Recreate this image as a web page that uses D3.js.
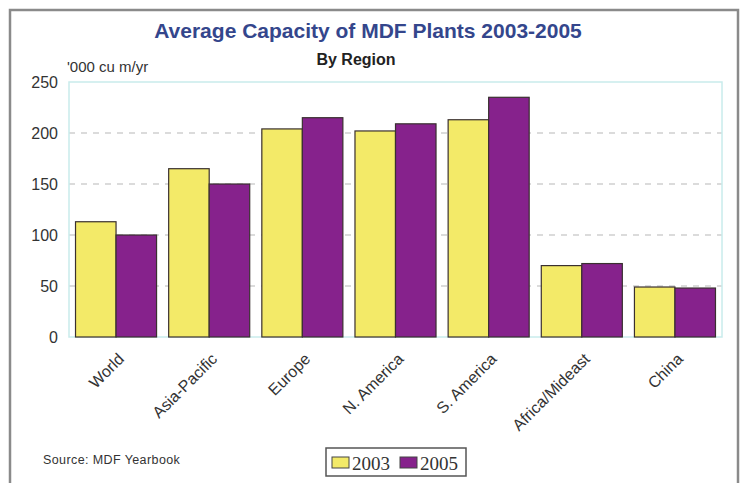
<!DOCTYPE html>
<html>
<head>
<meta charset="utf-8">
<script src="https://cdn.jsdelivr.net/npm/d3@7"></script>
<style>
  html, body { margin: 0; padding: 0; background: #fff; }
  svg { display: block; font-family: Arial, "Liberation Sans", sans-serif; }
</style>
</head>
<body>
<svg id="chart" width="741" height="483"></svg>
<script>
// Average capacity of MDF plants by region ('000 cu m/yr)
const regions = ["World", "Asia-Pacific", "Europe", "N. America", "S. America", "Africa/Mideast", "China"];
const years = ["2003", "2005"];
const values2003 = [113, 165, 204, 202, 213, 70, 49];
const values2005 = [100, 150, 215, 209, 235, 72, 48];
const yTicks = [0, 50, 100, 150, 200, 250];
const seriesColors = ["#f3ea68", "#86228c"];

const svg = d3.select("#chart");
const margin = { left: 69, right: 19, top: 82, bottom: 146 };
const W = 741, H = 483;
const plotW = W - margin.left - margin.right;
const plotH = H - margin.top - margin.bottom;
const sans = "Arial, 'Liberation Sans', sans-serif";

// outer frame
svg.append("path")
  .attr("d", `M10,${H + 5} L10,10 L738,10 L738,${H + 5}`)
  .attr("fill", "none").attr("stroke", "#8a8a8a").attr("stroke-width", 2.5);

// titles
svg.append("text").attr("x", 368).attr("y", 38).attr("text-anchor", "middle")
  .attr("font-size", 21).attr("font-weight", "bold").attr("fill", "#34468c")
  .text("Average Capacity of MDF Plants 2003-2005");
svg.append("text").attr("x", 356).attr("y", 65).attr("text-anchor", "middle")
  .attr("font-size", 16).attr("font-weight", "bold").attr("fill", "#222")
  .text("By Region");
svg.append("text").attr("x", 67).attr("y", 72)
  .attr("font-size", 15).attr("fill", "#333")
  .text("'000 cu m/yr");

const g = svg.append("g").attr("transform", `translate(${margin.left},${margin.top})`);

const x = d3.scaleBand().domain(regions).range([0, plotW]).paddingInner(0.13).paddingOuter(0.07);
const xs = d3.scaleBand().domain(years).range([0, x.bandwidth()]);
const y = d3.scaleLinear().domain([0, 250]).range([plotH, 0]);

// dashed gridlines
g.append("g").selectAll("line").data(yTicks.filter(t => t > 0 && t < 250)).join("line")
  .attr("x1", 0).attr("x2", plotW)
  .attr("y1", d => y(d)).attr("y2", d => y(d))
  .attr("stroke", "#cfcfcf").attr("stroke-width", 1.5).attr("stroke-dasharray", "6,6");

// plot border
g.append("rect").attr("x", 0).attr("y", 0).attr("width", plotW).attr("height", plotH)
  .attr("fill", "none").attr("stroke", "#c9ecec").attr("stroke-width", 1.5);

// bars
const series = [values2003, values2005];
const rows = regions.map((r, i) => ({ region: r, vals: years.map((yr, k) => ({ year: yr, k, v: series[k][i] })) }));
const grp = g.selectAll("g.grp").data(rows).join("g").attr("class", "grp")
  .attr("transform", d => `translate(${x(d.region)},0)`);
grp.selectAll("rect").data(d => d.vals).join("rect")
  .attr("x", d => xs(d.year)).attr("width", xs.bandwidth())
  .attr("y", d => y(d.v)).attr("height", d => plotH - y(d.v))
  .attr("fill", d => seriesColors[d.k])
  .attr("stroke", "#3a3030").attr("stroke-width", 1.2);

// y axis labels
const yAxis = d3.axisLeft(y).tickValues(yTicks).tickSize(0).tickPadding(11);
const ya = g.append("g").call(yAxis);
ya.select(".domain").remove();
ya.selectAll("text").attr("font-size", 16).attr("fill", "#333").attr("font-family", sans);

// x axis labels, rotated
const xAxis = d3.axisBottom(x).tickSize(0);
const xa = g.append("g").attr("transform", `translate(0,${plotH})`).call(xAxis);
xa.select(".domain").remove();
xa.selectAll("text")
  .attr("font-size", 16).attr("fill", "#333").attr("font-family", sans)
  .attr("text-anchor", "end").attr("dy", 0).attr("y", 0).attr("x", 0)
  .attr("transform", "translate(9,23) rotate(-45)");

// source note
svg.append("text").attr("x", 43).attr("y", 464)
  .attr("font-size", 12.5).attr("letter-spacing", 0.4).attr("fill", "#333")
  .text("Source: MDF Yearbook");

// legend
const lg = svg.append("g").attr("transform", "translate(326,448)");
lg.append("rect").attr("width", 140).attr("height", 28)
  .attr("fill", "#fff").attr("stroke", "#555").attr("stroke-width", 1.5);
const items = lg.selectAll("g").data(years).join("g")
  .attr("transform", (d, i) => `translate(${6 + i * 68},0)`);
items.append("rect").attr("y", 9).attr("width", 17).attr("height", 11)
  .attr("fill", (d, i) => seriesColors[i]).attr("stroke", "#444").attr("stroke-width", 1);
items.append("text").attr("x", 20).attr("y", 22)
  .attr("font-family", "'Liberation Serif', 'Times New Roman', serif").attr("font-size", 19).attr("fill", "#333")
  .text(d => d);
</script>
</body>
</html>
